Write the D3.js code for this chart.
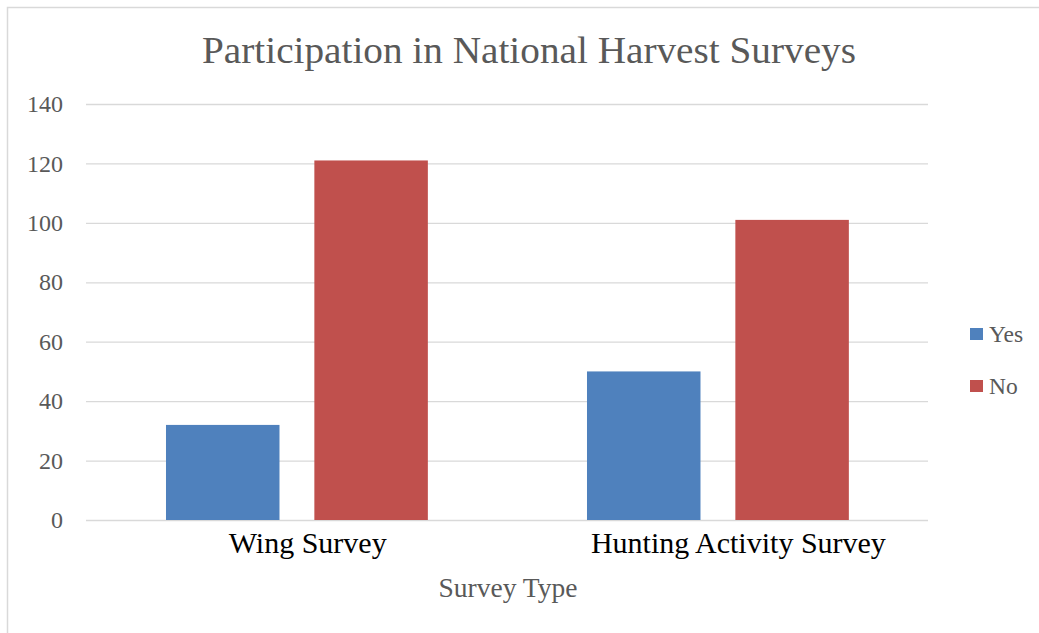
<!DOCTYPE html>
<html>
<head>
<meta charset="utf-8">
<script src="https://cdn.jsdelivr.net/npm/d3@7"></script>
<style>
  html, body { margin: 0; padding: 0; background: #fff; }
  svg { display: block; }
  text { font-family: "Liberation Serif", "DejaVu Serif", serif; }
</style>
</head>
<body>
<svg id="chart" width="1039" height="633"></svg>
<script>
// Survey participation counts
const categories = ["Wing Survey", "Hunting Activity Survey"];
const seriesNames = ["Yes", "No"];
const yesValues = [32, 50];
const noValues = [121, 101];
const yTicks = [0, 20, 40, 60, 80, 100, 120, 140];

const colors = { Yes: "#4F81BD", No: "#C0504D" };
const svg = d3.select("#chart");

// chart frame (extends past the right and bottom edges)
svg.append("rect")
  .attr("x", 7.5).attr("y", 7.5)
  .attr("width", 1060).attr("height", 660)
  .attr("fill", "#fff").attr("stroke", "#d9d9d9").attr("stroke-width", 1.5);

const plot = { left: 86, right: 928, top: 104, bottom: 520 };

const y = d3.scaleLinear().domain([0, 140]).range([plot.bottom, plot.top]);
const x0 = d3.scaleBand().domain(categories).range([plot.left, plot.right]).padding(0);
const bw = x0.bandwidth();
const x1 = d3.scaleBand().domain(seriesNames)
  .range([bw * 0.19, bw * 0.812]).paddingInner(0.235).paddingOuter(0);

// gridlines and y tick labels
const yAxis = d3.axisLeft(y).tickValues(yTicks).tickSize(-(plot.right - plot.left)).tickPadding(23);
const gy = svg.append("g").attr("transform", `translate(${plot.left},0)`).call(yAxis);
gy.select(".domain").remove();
gy.selectAll(".tick line").attr("stroke", "#d9d9d9").attr("stroke-width", 1.3);
gy.selectAll(".tick text")
  .attr("fill", "#595959")
  .style("font-size", "24px")
  .style("font-family", "'Liberation Serif', serif");

// bars
const rows = categories.map((c, i) => ({ cat: c, Yes: yesValues[i], No: noValues[i] }));
const groups = svg.append("g").selectAll("g").data(rows).join("g")
  .attr("transform", d => `translate(${x0(d.cat)},0)`);
groups.selectAll("rect")
  .data(d => seriesNames.map(s => ({ s, v: d[s] })))
  .join("rect")
  .attr("x", d => x1(d.s))
  .attr("width", x1.bandwidth())
  .attr("y", d => y(d.v))
  .attr("height", d => y(0) - y(d.v))
  .attr("fill", d => colors[d.s]);

// category labels
svg.append("g").selectAll("text").data(categories).join("text")
  .attr("x", d => x0(d) + bw / 2)
  .attr("y", 553)
  .attr("fill", "#000")
  .style("font-size", "30px")
  .text(d => d)
  .each(function (d) {
    const w = this.getComputedTextLength();
    const cx = x0(d) + bw / 2;
    // text starts a bit right of the half-width position
    d3.select(this).attr("x", cx - w / 2.33);
  });

// axis title
svg.append("text")
  .attr("x", (plot.left + plot.right) / 2 + 1)
  .attr("y", 597)
  .attr("text-anchor", "middle")
  .attr("fill", "#595959")
  .style("font-size", "27.5px")
  .text("Survey Type");

// chart title
svg.append("text")
  .attr("x", 529)
  .attr("y", 63)
  .attr("text-anchor", "middle")
  .attr("fill", "#595959")
  .attr("textLength", 654)
  .attr("lengthAdjust", "spacingAndGlyphs")
  .style("font-size", "37px")
  .text("Participation in National Harvest Surveys");

// legend
const legend = svg.append("g").selectAll("g").data(seriesNames).join("g")
  .attr("transform", (d, i) => `translate(970, ${328 + i * 52})`);
legend.append("rect").attr("width", 13).attr("height", 12).attr("fill", d => colors[d]);
legend.append("text")
  .attr("x", 19).attr("y", 14)
  .attr("fill", "#595959")
  .style("font-size", "23.5px")
  .text(d => d);
</script>
</body>
</html>
